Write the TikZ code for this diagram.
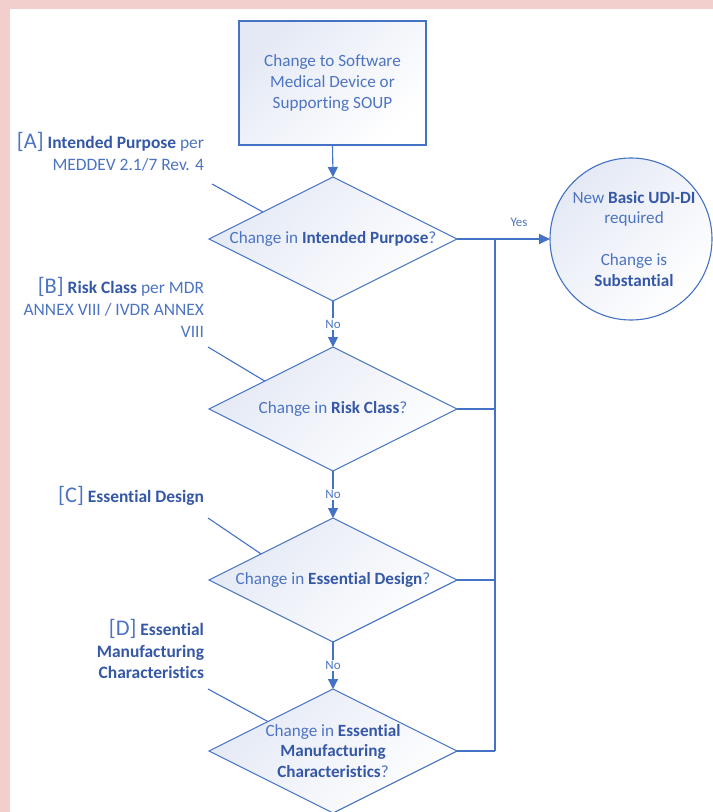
\documentclass[tikz,border=0pt]{standalone}
\usepackage{fontspec}
\setmainfont[Ligatures=NoCommon]{Carlito}
\usetikzlibrary{shapes.geometric,arrows.meta,calc}
\definecolor{bg}{HTML}{F2CFCD}
\definecolor{ln}{HTML}{4472C4}
\definecolor{tx}{HTML}{4D74C2}
\definecolor{bd}{HTML}{3558A6}
\definecolor{fl}{HTML}{E4E9F5}
\newcommand{\bld}[1]{\textbf{\color{bd}#1}}
\newcommand{\bigbr}[1]{{\fontsize{22.5}{22}\selectfont #1}}
\begin{document}
\begin{tikzpicture}[x=1bp,y=-1bp,
 every node/.style={inner sep=0pt, outer sep=0pt},
 shp/.style={draw=ln, line width=1.1bp, top color=fl, bottom color=white, shading angle=45},
 dia/.style={shp, diamond, minimum width=248bp, minimum height=124bp},
 txt/.style={text=tx, font=\fontsize{17.2}{21}\selectfont, align=center},
 ann/.style={text=tx, font=\fontsize{17.5}{22}\selectfont, align=right, anchor=east},
 lbl/.style={text=tx, font=\fontsize{13}{15}\selectfont},
 flow/.style={draw=ln, line width=1.1bp, -{Triangle[length=10bp,width=10bp]}},
 bus/.style={draw=ln, line width=2bp},
 leader/.style={draw=ln, line width=1.1bp}
]
\fill[bg] (0,0) rectangle (713,812);
\fill[white] (10,9) rectangle (713,812);
\useasboundingbox (0,0) rectangle (713,812);

% start box
\node[shp, minimum width=187bp, minimum height=124bp, txt] (start) at (332.5,83)
  {Change to Software\\Medical Device or\\Supporting SOUP};

% diamonds
\node[dia] (d1) at (333,239) {};
\node[dia] (d2) at (333,409) {};
\node[dia] (d3) at (333,580) {};
\node[dia] (d4) at (333,751) {};
\node[txt] (t1) at (d1.center) {Change in \bld{Intended Purpose}?};
\node[txt] (t2) at (d2.center) {Change in \bld{Risk Class}?};
\node[txt] (t3) at (d3.center) {Change in \bld{Essential Design}?};
\node[txt] (t4) at (d4.center) {Change in \bld{Essential}\\\bld{Manufacturing}\\\bld{Characteristics}?};

% result circle
\node[shp, circle, minimum size=162bp] (res) at (631,239) {};
\node[txt] (restext) at (634,239) {New \bld{Basic UDI-DI}\\required\\[21bp]Change is\\\bld{Substantial}};

% annotations
\node[ann] (annA) at (204,152) {\bigbr{[A]} \bld{Intended Purpose} per\\MEDDEV 2.1/7 Rev. 4};
\node[ann] (annB) at (204,307) {\bigbr{[B]} \bld{Risk Class} per MDR\\ANNEX VIII / IVDR ANNEX\\VIII};
\node[ann] (annC) at (204,496) {\bigbr{[C]} \bld{Essential Design}};
\node[ann] (annD) at (204,649) {\bigbr{[D]} \bld{Essential}\\\bld{Manufacturing}\\\bld{Characteristics}};

% leader lines
\coordinate (pA) at (212,184);
\coordinate (pB) at (208,347);
\coordinate (pC) at (208,518);
\coordinate (pD) at (208,689);
\draw[leader] (pA) -- ($(d1.west)!0.435!(d1.north)$);
\draw[leader] (pB) -- ($(d2.west)!0.45!(d2.north)$);
\draw[leader] (pC) -- ($(d3.west)!0.42!(d3.north)$);
\draw[leader] (pD) -- ($(d4.west)!0.475!(d4.north)$);

% main flow
\draw[flow] (start.south) -- (d1.north);
\draw[flow] (d1.south) -- node[lbl, fill=white, inner sep=1.5bp] (no1) {No} (d2.north);
\draw[flow] (d2.south) -- node[lbl, fill=white, inner sep=1.5bp] (no2) {No} (d3.north);
\draw[flow] (d3.south) -- node[lbl, fill=white, inner sep=1.5bp] (no3) {No} (d4.north);

% bus to result
\coordinate (j1) at (495,239);
\coordinate (j2) at (495,409);
\coordinate (j3) at (495,580);
\coordinate (j4) at (495,751);
\draw[leader] (d1.east) -- (j1);
\draw[leader] (d2.east) -- (j2);
\draw[leader] (d3.east) -- (j3);
\draw[leader] (d4.east) -- (j4);
\draw[bus] (j1) -- (j4);
\draw[bus, -{Triangle[length=11bp,width=10bp]}] (j1) -- (res.west);
\node[lbl] (yes) at (519,222) {Yes};
\end{tikzpicture}
\end{document}
